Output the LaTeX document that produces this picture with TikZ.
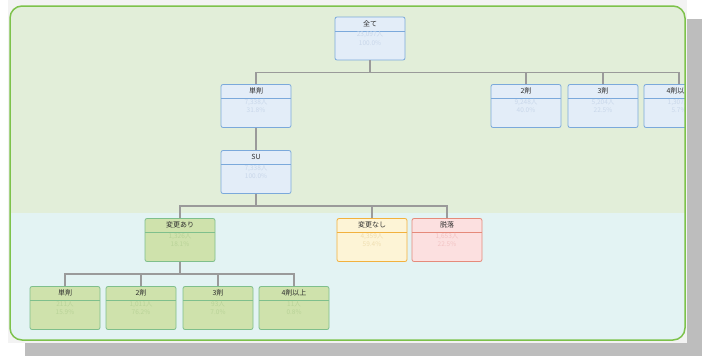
\documentclass[tikz,border=0pt]{standalone}
\usepackage{fontspec}
\setmainfont{Noto Sans CJK JP}
\usetikzlibrary{positioning}

\definecolor{panelbd}{HTML}{7DC24B}
\definecolor{bandtop}{HTML}{E2EED9}
\definecolor{bandlow}{HTML}{E3F3F3}
\definecolor{backing}{HTML}{F3F3F3}
\definecolor{shadow}{HTML}{BDBDBD}
\definecolor{linkgray}{HTML}{9A9A9A}
\definecolor{headtx}{HTML}{2E2E2E}
\definecolor{drugbg}{HTML}{E3EDF8}
\definecolor{drugbd}{HTML}{7BA9DB}
\definecolor{drugtx}{HTML}{C9D7EA}
\definecolor{chgbg}{HTML}{CFE2AC}
\definecolor{chgbd}{HTML}{7FBF8C}
\definecolor{chgtx}{HTML}{B9D398}
\definecolor{keepbg}{HTML}{FDF4D6}
\definecolor{keepbd}{HTML}{F2B13E}
\definecolor{keeptx}{HTML}{EEDDB0}
\definecolor{dropbg}{HTML}{FCE0E0}
\definecolor{dropbd}{HTML}{E58A7A}
\definecolor{droptx}{HTML}{F2C3C3}

\begin{document}
\begin{tikzpicture}[x=1pt,y=-1pt]
  \tikzset{statbox/.style = {shape=rectangle,rounded corners=2pt,line width=0.8pt,
      minimum width=70pt,minimum height=43pt,inner sep=0pt,align=center,
      font=\fontsize{6.5}{8.5}\selectfont,
      path picture={\draw[line width=0.8pt,draw=#1]
        ([yshift=-14pt]path picture bounding box.north west) --
        ([yshift=-14pt]path picture bounding box.north east);}}}
  \tikzset{head/.style = {anchor=center,yshift=-7pt,inner sep=0pt,text=headtx,
      font=\fontsize{7}{8}\selectfont}}
  \tikzset{drugbox/.style = {statbox=drugbd,draw=drugbd,fill=drugbg,text=drugtx}}
  \tikzset{chgbox/.style = {statbox=chgbd,draw=chgbd,fill=chgbg,text=chgtx}}
  \tikzset{keepbox/.style = {statbox=keepbd,draw=keepbd,fill=keepbg,text=keeptx}}
  \tikzset{dropbox/.style = {statbox=dropbd,draw=dropbd,fill=dropbg,text=droptx}}
  \tikzset{edge/.style = {draw=linkgray,line width=1.2pt}}

  \useasboundingbox (0,0) rectangle (708,356);
  \fill[shadow] (25,19) rectangle (702,356);
  \fill[backing] (8,0) rectangle (687,343);

  \begin{scope}
    \clip[rounded corners=12pt] (10,6) rectangle (685,340);
    \fill[bandtop] (10,6) rectangle (685,213);
    \fill[bandlow] (10,213) rectangle (685,340);

    \node[drugbox,label={[head]north:全て}] (all) at (370,38.5) {23,097人\\100.0\%};
    \node[drugbox,label={[head]north:単剤}] (d1) at (256,106) {7,338人\\31.8\%};
    \node[drugbox,label={[head]north:2剤}] (d2) at (526,106) {9,248人\\40.0\%};
    \node[drugbox,label={[head]north:3剤}] (d3) at (603,106) {5,204人\\22.5\%};
    \node[drugbox,label={[head]north:4剤以上}] (d4) at (679,106) {1,307人\\5.7\%};
    \node[drugbox,label={[head]north:SU}] (su) at (256,172) {7,338人\\100.0\%};

    \node[chgbox,label={[head]north:変更あり}] (chg) at (180,240) {1,326人\\18.1\%};
    \node[keepbox,label={[head]north:変更なし}] (keep) at (372,240) {4,359人\\59.4\%};
    \node[dropbox,label={[head]north:脱落}] (drop) at (447,240) {1,653人\\22.5\%};

    \node[chgbox,label={[head]north:単剤}] (c1) at (65,308) {211人\\15.9\%};
    \node[chgbox,label={[head]north:2剤}] (c2) at (141,308) {1,011人\\76.2\%};
    \node[chgbox,label={[head]north:3剤}] (c3) at (218,308) {93人\\7.0\%};
    \node[chgbox,label={[head]north:4剤以上}] (c4) at (294,308) {11人\\0.8\%};

    \draw[edge] (all.south) -- ++(0,12) -| (d1.north);
    \draw[edge] (all.south) -- ++(0,12) -| (d2.north);
    \draw[edge] (all.south) -- ++(0,12) -| (d3.north);
    \draw[edge] (all.south) -- ++(0,12) -| (d4.north);
    \draw[edge] (d1) -- (su);
    \draw[edge] (su.south) -- ++(0,12) -| (chg.north);
    \draw[edge] (su.south) -- ++(0,12) -| (keep.north);
    \draw[edge] (su.south) -- ++(0,12) -| (drop.north);
    \draw[edge] (chg.south) -- ++(0,12) -| (c1.north);
    \draw[edge] (chg.south) -- ++(0,12) -| (c2.north);
    \draw[edge] (chg.south) -- ++(0,12) -| (c3.north);
    \draw[edge] (chg.south) -- ++(0,12) -| (c4.north);
  \end{scope}

  \draw[panelbd,line width=1.5pt,rounded corners=12pt] (10,6) rectangle (685,340);
\end{tikzpicture}
\end{document}
